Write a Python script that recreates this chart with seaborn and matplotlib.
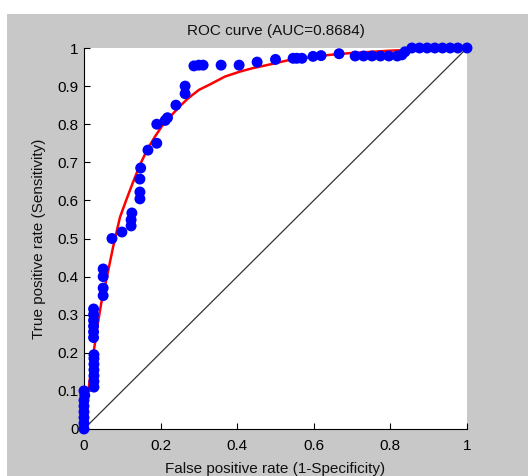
import matplotlib
matplotlib.use("Agg")
import matplotlib.pyplot as plt
import matplotlib.patches as mpatches
import seaborn as sns
import pandas as pd

# Empirical ROC points (false positive rate, true positive rate)
roc_fpr = [0.0, 0.0, 0.0, 0.0, 0.0, 0.0, 0.002, 0.0,
           0.026, 0.026, 0.026, 0.026, 0.026, 0.026, 0.026,
           0.025, 0.025, 0.025, 0.025, 0.025, 0.025,
           0.05, 0.05, 0.05, 0.05,
           0.073, 0.099, 0.123, 0.123, 0.125,
           0.146, 0.146, 0.146, 0.148, 0.167, 0.19, 0.19, 0.212, 0.218,
           0.24, 0.264, 0.264, 0.287, 0.30, 0.311, 0.358, 0.405, 0.452,
           0.50, 0.546, 0.556, 0.569, 0.598, 0.619, 0.666,
           0.708, 0.73, 0.752, 0.774, 0.796, 0.818, 0.83, 0.838,
           0.856, 0.876, 0.896, 0.916, 0.936, 0.956, 0.976, 1.0]
roc_tpr = [0.0, 0.015, 0.03, 0.045, 0.06, 0.075, 0.088, 0.1,
           0.11, 0.125, 0.14, 0.155, 0.17, 0.185, 0.195,
           0.24, 0.255, 0.27, 0.285, 0.30, 0.315,
           0.35, 0.37, 0.40, 0.42,
           0.50, 0.517, 0.533, 0.549, 0.567,
           0.604, 0.622, 0.656, 0.685, 0.732, 0.75, 0.80, 0.81, 0.817,
           0.85, 0.88, 0.90, 0.953, 0.955, 0.955, 0.955, 0.955, 0.963,
           0.97, 0.973, 0.973, 0.973, 0.978, 0.98, 0.985,
           0.979, 0.979, 0.979, 0.979, 0.979, 0.979, 0.982, 0.99,
           1.0, 1.0, 1.0, 1.0, 1.0, 1.0, 1.0, 1.0]

# Fitted smooth ROC curve
fit_fpr = [0.0, 0.005, 0.01, 0.016, 0.025, 0.035, 0.045, 0.06, 0.076, 0.094,
           0.11, 0.125, 0.146, 0.165, 0.185, 0.205, 0.229, 0.25, 0.272, 0.30,
           0.33, 0.368, 0.407, 0.44, 0.477, 0.538, 0.60, 0.642, 0.70, 0.80,
           0.90, 1.0]
fit_tpr = [0.0, 0.05, 0.09, 0.136, 0.2, 0.27, 0.33, 0.40, 0.478, 0.556,
           0.60, 0.64, 0.693, 0.733, 0.767, 0.797, 0.824, 0.847, 0.868, 0.89,
           0.905, 0.925, 0.938, 0.947, 0.955, 0.969, 0.977, 0.982, 0.987, 0.993,
           0.997, 1.0]

# Chance diagonal
diag_x = [0.0, 1.0]
diag_y = [0.0, 1.0]

x_ticks = [0, 0.2, 0.4, 0.6, 0.8, 1]
x_tick_labels = ["0", "0.2", "0.4", "0.6", "0.8", "1"]
y_ticks = [0, 0.1, 0.2, 0.3, 0.4, 0.5, 0.6, 0.7, 0.8, 0.9, 1]
y_tick_labels = ["0", "0.1", "0.2", "0.3", "0.4", "0.5", "0.6", "0.7", "0.8", "0.9", "1"]

title_text = "ROC curve (AUC=0.8684)"
xlabel_text = "False positive rate (1-Specificity)"
ylabel_text = "True positive rate (Sensitivity)"

sns.set_style("white")
plt.rcParams['font.family'] = ['Liberation Sans', 'DejaVu Sans']

W, H = 528, 476
fig = plt.figure(figsize=(W / 100, H / 100), dpi=100, facecolor="white")
bg = mpatches.Rectangle((7 / W, 0), 1 - 7 / W, (H - 14) / H, transform=fig.transFigure,
                        facecolor="#c8c8c8", edgecolor="none", zorder=-5)
fig.patches.append(bg)

ax = fig.add_axes([84 / W, 1 - 429 / H, (467 - 84) / W, (429 - 48) / H])
ax.set_facecolor("white")
ax.set_zorder(1)

sns.lineplot(x=diag_x, y=diag_y, ax=ax, color="#333333", linewidth=0.9, sort=False,
             estimator=None, zorder=2)
sns.lineplot(x=fit_fpr, y=fit_tpr, ax=ax, color="red", linewidth=1.8, sort=False,
             estimator=None, zorder=3)
df = pd.DataFrame({"fpr": roc_fpr, "tpr": roc_tpr})
sns.scatterplot(data=df, x="fpr", y="tpr", ax=ax, color="#0000ff", s=62, edgecolor="none",
                zorder=4, clip_on=False)

ax.set_xlim(0, 1)
ax.set_ylim(0, 1)
ax.set_xticks(x_ticks)
ax.set_xticklabels(x_tick_labels)
ax.set_yticks(y_ticks)
ax.set_yticklabels(y_tick_labels)
ax.tick_params(direction="in", length=4, width=0.8, colors="black", labelsize=11,
               bottom=True, left=True)
ax.tick_params(axis="x", pad=7)
ax.tick_params(axis="y", pad=4)

for side in ["top", "right"]:
    ax.spines[side].set_visible(False)
for side in ["left", "bottom"]:
    ax.spines[side].set_color("black")
    ax.spines[side].set_linewidth(0.8)

ax.set_title(title_text, fontsize=11, pad=9.5, color="#111111")
ax.set_xlabel(xlabel_text, fontsize=11, labelpad=7, color="#111111")
ax.set_ylabel(ylabel_text, fontsize=11, labelpad=8, color="#111111")

fig.savefig("out.png", dpi=100, facecolor=fig.get_facecolor())
